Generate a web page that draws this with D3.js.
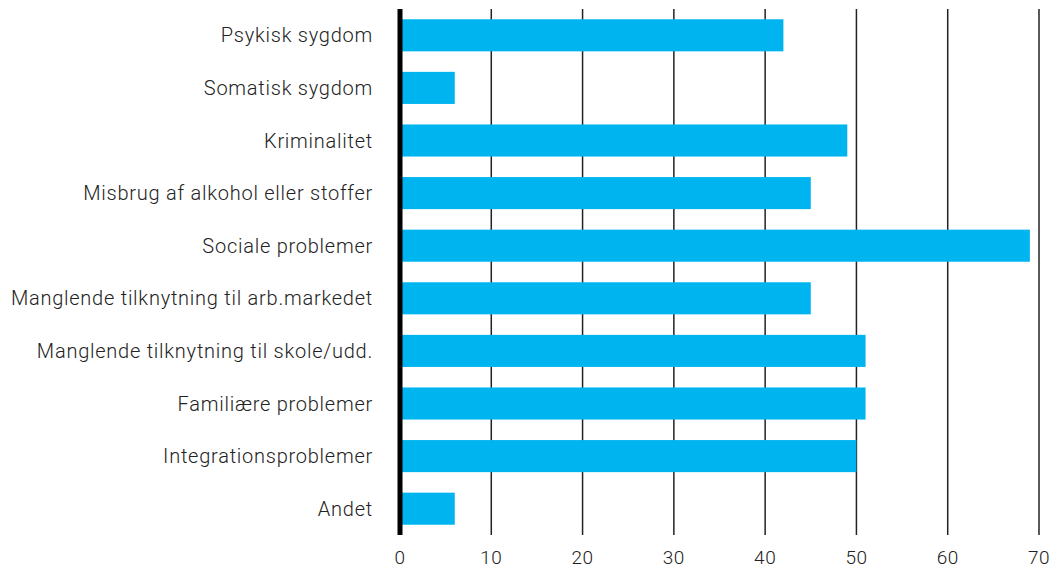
<!DOCTYPE html>
<html>
<head>
<meta charset="utf-8">
<script src="https://cdn.jsdelivr.net/npm/d3@7"></script>
<style>
  body { margin: 0; background: #fff; }
  text { font-family: Roboto, "Noto Sans", sans-serif; font-weight: 300; fill: #222; }
</style>
</head>
<body>
<div id="chart"></div>
<script>
// data
const categories = [
    'Psykisk sygdom',
    'Somatisk sygdom',
    'Kriminalitet',
    'Misbrug af alkohol eller stoffer',
    'Sociale problemer',
    'Manglende tilknytning til arb.markedet',
    'Manglende tilknytning til skole/udd.',
    'Familiære problemer',
    'Integrationsproblemer',
    'Andet'
];
const values = [42, 6, 49, 45, 69, 45, 51, 51, 50, 6];
const xTicks = [0, 10, 20, 30, 40, 50, 60, 70];

const width = 1050, height = 569;
const margin = { top: 9, right: 11, bottom: 34, left: 400 };
const innerW = width - margin.left - margin.right;
const innerH = height - margin.top - margin.bottom;

const svg = d3.select('#chart')
    .append('svg')
    .attr('width', width)
    .attr('height', height)
    .append('g')
    .attr('transform', `translate(${margin.left}, ${margin.top})`);

const xScale = d3.scaleLinear().domain([0, 70]).range([0, innerW]);
const yScale = d3.scaleBand().domain(categories).range([0, innerH]).paddingInner(0.39).paddingOuter(0.195);

// vertical grid lines
svg.append('g')
    .selectAll('line')
    .data(xTicks.filter(d => d > 0))
    .enter()
    .append('line')
    .attr('x1', d => xScale(d))
    .attr('x2', d => xScale(d))
    .attr('y1', 0)
    .attr('y2', innerH)
    .attr('stroke', '#222')
    .attr('stroke-width', 1.5);

// bars
svg.selectAll('.bar')
    .data(values)
    .enter()
    .append('rect')
    .attr('class', 'bar')
    .attr('x', xScale(0))
    .attr('y', (d, i) => yScale(categories[i]))
    .attr('width', d => xScale(d) - xScale(0))
    .attr('height', yScale.bandwidth())
    .attr('fill', '#00b5ef');

// thick zero axis
svg.append('line')
    .attr('x1', xScale(0))
    .attr('x2', xScale(0))
    .attr('y1', 0)
    .attr('y2', innerH)
    .attr('stroke', '#000')
    .attr('stroke-width', 5);

// category labels
svg.selectAll('.cat')
    .data(categories)
    .enter()
    .append('text')
    .attr('class', 'cat')
    .attr('x', -27)
    .attr('y', d => yScale(d) + yScale.bandwidth() / 2)
    .attr('dy', '0.35em')
    .attr('text-anchor', 'end')
    .style('font-size', '20px')
    .style('letter-spacing', '0.75px')
    .text(d => d);

// x tick labels
svg.selectAll('.tick-label')
    .data(xTicks)
    .enter()
    .append('text')
    .attr('class', 'tick-label')
    .attr('x', d => xScale(d))
    .attr('y', innerH + 22)
    .attr('dy', '0.35em')
    .attr('text-anchor', 'middle')
    .style('font-size', '19px')
    .style('letter-spacing', '0.5px')
    .text(d => d);
</script>
</body>
</html>
